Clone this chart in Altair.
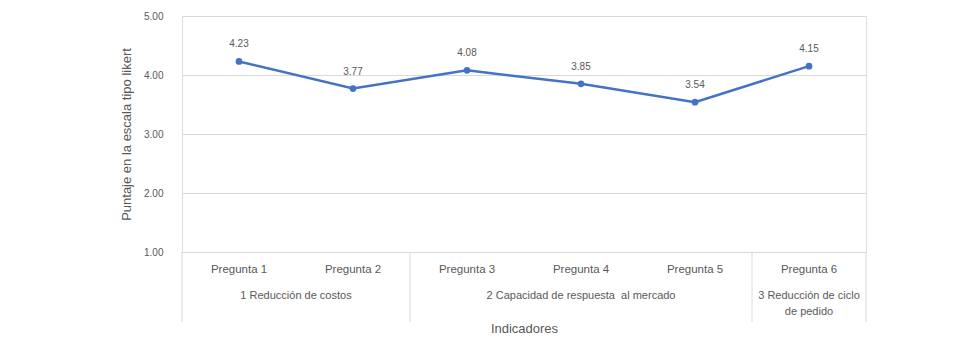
import altair as alt
import pandas as pd

preguntas = ["Pregunta 1", "Pregunta 2", "Pregunta 3", "Pregunta 4", "Pregunta 5", "Pregunta 6"]
puntajes = [4.23, 3.77, 4.08, 3.85, 3.54, 4.15]
grupos_l1 = ["1 Reducción de costos", "2 Capacidad de respuesta\u00a0 al mercado", "3 Reducción de ciclo"]
grupos_l2 = ["", "", "de pedido"]
grupo_inicio = [0, 2, 5]
grupo_fin = [2, 5, 6]

FONT = "Liberation Sans"
GREY = "#595959"
BLUE = "#4472C4"

df = pd.DataFrame({
    "pregunta": preguntas,
    "pos": [i + 0.5 for i in range(len(preguntas))],
    "valor": puntajes,
})
df["etiqueta"] = df["valor"].map(lambda v: f"{v:.2f}")

grp = pd.DataFrame({
    "l1": grupos_l1,
    "l2": grupos_l2,
    "centro": [(a + b) / 2 for a, b in zip(grupo_inicio, grupo_fin)],
})
sep = pd.DataFrame({"pos": sorted(set(grupo_inicio + grupo_fin))})

H = 236
xscale = alt.Scale(domain=[0, len(preguntas)], nice=False, zero=False)
yscale = alt.Scale(domain=[1, 5], nice=False, zero=False)

x_axis = alt.Axis(labels=False, ticks=False, domain=False, grid=False,
                  title="Indicadores", titleFont=FONT, titleFontSize=13,
                  titleFontWeight="normal", titleColor=GREY, titlePadding=70)

base = alt.Chart(df)

line = base.mark_line(color=BLUE, strokeWidth=2.5).encode(
    x=alt.X("pos:Q", scale=xscale, axis=x_axis),
    y=alt.Y("valor:Q", scale=yscale,
            axis=alt.Axis(values=[1, 2, 3, 4, 5], format=".2f", ticks=False, domain=False,
                          grid=True, gridColor="#d9d9d9", gridWidth=1,
                          labelFont=FONT, labelFontSize=10, labelColor=GREY, labelPadding=19,
                          title="Puntaje en la escala tipo likert", titleFont=FONT,
                          titleFontSize=13, titleFontWeight="normal", titleColor=GREY,
                          titlePadding=10)),
)
pts = base.mark_point(filled=True, color=BLUE, size=45, opacity=1).encode(
    x=alt.X("pos:Q", scale=xscale), y=alt.Y("valor:Q", scale=yscale))
lbl = base.mark_text(font=FONT, fontSize=10, color=GREY, dy=-17, baseline="middle").encode(
    x=alt.X("pos:Q", scale=xscale), y=alt.Y("valor:Q", scale=yscale), text="etiqueta:N")

cat = base.mark_text(font=FONT, fontSize=11.5, color=GREY, baseline="middle").encode(
    x=alt.X("pos:Q", scale=xscale), y=alt.value(H + 18), text="pregunta:N")

g1 = alt.Chart(grp).mark_text(font=FONT, fontSize=11, color=GREY, baseline="middle").encode(
    x=alt.X("centro:Q", scale=xscale), y=alt.value(H + 44), text="l1:N")
g2 = alt.Chart(grp).mark_text(font=FONT, fontSize=11, color=GREY, baseline="middle").encode(
    x=alt.X("centro:Q", scale=xscale), y=alt.value(H + 60), text="l2:N")

rules = alt.Chart(sep).mark_rule(color="#d9d9d9", strokeWidth=1).encode(
    x=alt.X("pos:Q", scale=xscale), y=alt.value(H), y2=alt.value(H + 70))

chart = alt.layer(rules, line, pts, lbl, cat, g1, g2).properties(
    width=684, height=H,
    autosize=alt.AutoSizeParams(type="none"),
    padding={"left": 174, "top": 8, "right": 100, "bottom": 95},
).configure_view(stroke=None).configure(background="white")

chart.save("out.html", embed_options={"renderer": "svg", "actions": False})
